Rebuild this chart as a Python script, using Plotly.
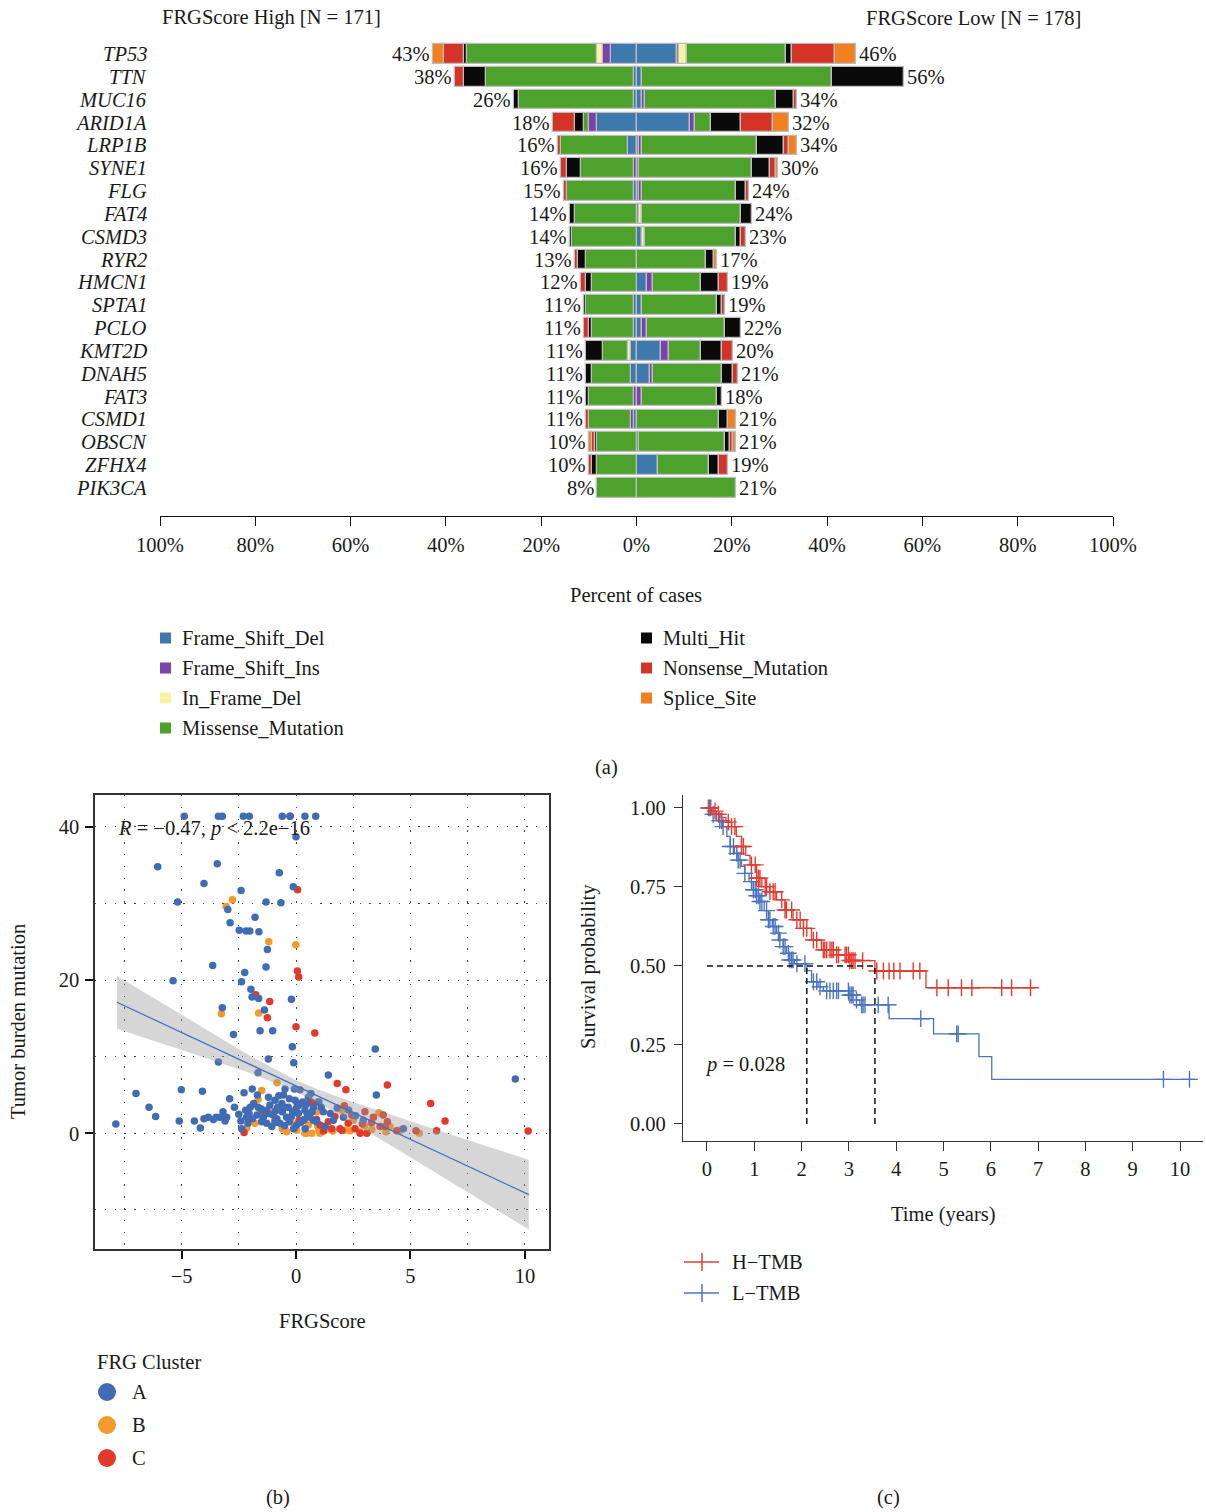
import numpy as np
import plotly.graph_objects as go

W, H = 1206, 1512
FONT = "Liberation Serif, DejaVu Serif, serif"
INK = "#1a1a1a"
FS = 20.5


def fx(px):
    return px / W


def fy(py):
    return 1 - py / H


# ---------------- (a) mutation co-barplot ----------------
genes = ["TP53", "TTN", "MUC16", "ARID1A", "LRP1B", "SYNE1", "FLG", "FAT4", "CSMD3", "RYR2",
         "HMCN1", "SPTA1", "PCLO", "KMT2D", "DNAH5", "FAT3", "CSMD1", "OBSCN", "ZFHX4", "PIK3CA"]
mut_classes = ["Frame_Shift_Del", "Frame_Shift_Ins", "In_Frame_Del", "Missense_Mutation",
               "Multi_Hit", "Nonsense_Mutation", "Splice_Site"]
class_colors = ["#3d79ad", "#7b42ad", "#f8f2a4", "#4ca22b", "#0a0a0a", "#d43427", "#f2801f"]
n_high, n_low = 171, 178

# mutated samples per class (same order as mut_classes)
high_counts = [
    [9, 3, 2, 47, 1, 7, 4], [1, 0, 0, 53, 8, 3, 0], [1, 0, 0, 41, 2, 0, 0], [14, 3, 0, 2, 3, 8, 0],
    [3, 0, 0, 24, 0, 1, 0], [0, 1, 0, 19, 5, 2, 0], [1, 0, 0, 24, 0, 1, 0], [0, 0, 0, 22, 2, 0, 0],
    [0, 0, 0, 23, 1, 0, 0], [0, 0, 0, 18, 3, 1, 0], [0, 0, 0, 16, 2, 2, 0], [1, 0, 0, 17, 1, 0, 0],
    [1, 0, 0, 15, 1, 2, 0], [2, 0, 1, 9, 6, 0, 0], [2, 0, 0, 14, 2, 0, 0], [0, 1, 0, 16, 1, 0, 0],
    [1, 1, 0, 15, 0, 1, 0], [0, 0, 0, 14, 1, 1, 1], [0, 0, 0, 14, 2, 1, 0], [0, 0, 0, 14, 0, 0, 0],
]
low_counts = [
    [15, 1, 3, 37, 2, 16, 8], [2, 0, 0, 71, 27, 0, 0], [2, 1, 0, 49, 7, 1, 0], [20, 2, 0, 6, 11, 12, 6],
    [1, 1, 0, 43, 10, 2, 3], [0, 1, 0, 42, 7, 2, 1], [1, 1, 0, 35, 4, 1, 0], [1, 0, 1, 37, 4, 0, 0],
    [2, 0, 1, 34, 2, 2, 0], [0, 0, 0, 26, 3, 0, 1], [4, 2, 0, 18, 7, 3, 0], [2, 0, 0, 28, 2, 1, 0],
    [2, 2, 0, 29, 6, 0, 0], [9, 3, 0, 12, 8, 4, 0], [5, 1, 0, 26, 4, 2, 0], [0, 2, 0, 28, 2, 0, 0],
    [0, 0, 0, 31, 3, 0, 3], [1, 0, 0, 32, 2, 1, 1], [8, 0, 0, 19, 4, 3, 0], [0, 0, 0, 37, 0, 0, 0],
]
pct_ticks = [-100, -80, -60, -40, -20, 0, 20, 40, 60, 80, 100]

# ---------------- (b) FRGScore vs TMB ----------------
clusters = ["A", "B", "C"]
cluster_colors = ["#3f6cb5", "#f59a2a", "#e2392b"]
score_A = [-4.88, -3.39, -3.22, -2.30, -2.04, -0.60, -0.26, 0.39, 0.86,
           0.0, -6.04, -3.44, -4.02, -0.73, -0.12, -2.40, -5.17, -1.31, -0.66, -2.98, -1.79, -2.88,
           -2.48, -2.18, -2.02, -1.62, -1.25, -1.31, -3.64, -2.24, -5.37, -2.38, -1.97, -1.92, -1.63,
           -0.20, -3.22, -1.38, -2.73, -1.57, -1.02, -0.16, 3.46, -1.21, -3.39, -0.10, 1.41, 9.58,
           -1.66, 3.51,
           -7.87, -6.99, -6.42, -6.13, -5.10, -5.01, -4.44, -4.18, -4.09, -4.02, -3.83, -3.61, -3.49,
           -3.31, -3.19, -3.10, -3.03, -2.90, -2.69, -2.41, -2.37, -2.27, -2.20, -2.16, -2.05, -2.00,
           -1.91, -1.85, -1.69, -1.66, -1.53, -1.43, -1.28, -1.21, -1.14, -1.06, -0.92, -0.84, -0.80,
           -0.70, -0.62, -0.55, -0.48, -0.41, -0.34, -0.29, -0.04, -0.07, 0.03, 0.10, 0.17, 0.25,
           0.32, 0.39, 0.54, 0.61, 0.76, 0.90, 1.00, 1.19, 1.27,
           0.29, 0.97, 0.76, 1.63, 2.07, 2.94, 4.69, 0.40,
           -1.0, -0.6, -0.2, 0.2, -0.5, -1.3, -0.9, 0.0, 0.5, -1.7, -1.9, -0.3, 0.7, -1.2, -0.5,
           0.1, 0.45, -0.1, -0.9, -2.5, -2.1, -1.5, 1.5, 1.8, 2.3, 2.6, 1.1, -0.75, 0.65, -0.15]
tmb_A = [41.4, 41.4, 41.4, 41.4, 41.4, 41.4, 41.4, 41.4, 41.4,
         38.7, 34.8, 35.2, 32.6, 34.0, 32.2, 31.7, 30.2, 30.2, 30.1, 29.2, 28.2, 27.5,
         26.5, 26.4, 26.4, 26.3, 24.0, 21.7, 21.9, 21.0, 19.9, 19.8, 18.8, 17.8, 17.6,
         17.5, 16.4, 16.1, 12.9, 13.4, 13.4, 11.3, 11.0, 9.7, 9.3, 9.2, 7.6, 7.1,
         7.9, 5.0,
         1.2, 5.2, 3.4, 2.2, 1.6, 5.7, 1.6, 0.7, 5.5, 1.9, 2.1, 1.8, 2.1,
         2.1, 2.8, 1.6, 2.1, 4.5, 3.4, 1.6, 0.6, 5.3, 3.0, 2.1, 2.6, 3.4,
         5.8, 3.9, 5.0, 3.4, 3.2, 2.1, 1.3, 2.6, 3.7, 0.9, 4.3, 1.9, 3.4,
         1.3, 3.9, 5.0, 5.8, 2.1, 3.4, 4.5, 4.3, 5.8, 1.1, 2.6, 5.7, 3.9,
         1.7, 3.0, 4.7, 2.1, 3.4, 1.5, 4.1, 2.8, 0.9,
         4.1, 4.1, 1.7, 1.7, 2.1, 1.7, 0.6, 0.6,
         2.4, 2.8, 2.2, 1.4, 1.0, 3.0, 2.9, 3.2, 2.5, 2.4, 1.9, 1.5, 2.8, 4.7, 3.4,
         3.6, 3.8, 0.6, 1.4, 2.5, 1.3, 1.5, 2.6, 3.3, 3.0, 2.3, 3.4, 4.9, 5.2, 2.8]
score_B = [-2.78, -3.05, -1.19, -0.01, -3.26, -1.63, -0.83, -1.50, -1.66, -1.06, -2.15, -1.79,
           -0.60, 0.03, 0.39, 0.69, 0.90, 0.95, 0.54, -0.22, -0.07, 1.15, 1.0, 3.62, 2.0, 2.50,
           2.14, 2.79, 3.31, 3.93, 4.54, 5.38, 0.47, 1.05, 2.36, 4.5, 1.6, 1.3, -0.4, 3.0, 4.1]
tmb_B = [30.5, 29.6, 25.0, 24.6, 15.6, 15.7, 6.6, 5.6, 4.4, 2.9, 0.7, 1.3,
         0.6, 0.4, 0.0, 0.0, 2.8, 0.95, 1.1, 1.5, 0.75, 0.8, 0.4, 2.7, 3.0, 1.7,
         0.4, 0.2, 0.5, 0.2, 0.35, 0.0, 0.0, 0.0, 0.35, 0.4, 0.3, 0.5, 0.2, 1.0, 0.9]
score_C = [-0.26, 0.07, 0.06, 0.12, -1.76, -1.15, -1.25, 0.0, 0.82, 1.80, 2.18, 3.99, 5.88,
           6.51, 6.14, 10.14, 0.67, 2.11, 3.01, 3.38, 3.81, 3.99, 3.89, 3.67, 2.58, 2.28, 1.92,
           1.56, 1.41, 1.05, 3.09, 5.24, 4.40, 2.43, 2.0, 2.8, -2.27, -1.43, 0.13, 0.36, 0.90,
           0.05, -0.92, 1.7, 2.9, 3.3, 1.2]
tmb_C = [41.4, 31.8, 21.2, 20.4, 18.1, 17.2, 15.1, 13.9, 13.1, 6.5, 5.7, 6.3, 3.9,
         1.6, 0.35, 0.3, 4.1, 3.6, 2.8, 2.1, 2.4, 1.5, 0.9, 0.9, 0.6, 1.3, 0.6,
         0.6, 1.5, 1.1, 0.0, 0.35, 0.35, 2.4, 0.4, 0.0, 0.1, 2.9, 1.7, 1.8, 1.8,
         3.9, 1.6, 2.2, 1.2, 1.4, 0.3]

# linear fit with its 95% confidence band
fit_x = [-7.82, -6.0, -4.0, -2.0, 0.0, 1.0, 2.0, 4.0, 6.0, 8.0, 10.17]
fit_y = [17.10, 14.56, 11.77, 8.98, 6.19, 4.80, 3.40, 0.61, -2.18, -4.97, -8.00]
fit_hi = [20.55, 17.25, 13.63, 10.09, 6.94, 5.69, 4.59, 2.55, 0.59, -1.35, -3.45]
fit_lo = [13.65, 11.87, 9.91, 7.87, 5.44, 3.91, 2.21, -1.33, -4.95, -8.59, -12.55]

# ---------------- (c) Kaplan-Meier ----------------
groups = ["H\u2212TMB", "L\u2212TMB"]
group_colors = ["#e33b2e", "#4a74c0"]
h_time = [0, 0.10, 0.20, 0.30, 0.40, 0.52, 0.62, 0.73, 0.82, 0.91, 1.05, 1.16, 1.33, 1.47,
          1.65, 1.82, 2.04, 2.21, 2.42, 2.74, 3.02, 3.55, 4.63, 6.93]
h_surv = [1.0, 0.99, 0.98, 0.97, 0.955, 0.941, 0.91, 0.878, 0.85, 0.82, 0.778, 0.751, 0.735,
          0.709, 0.677, 0.646, 0.619, 0.582, 0.551, 0.535, 0.517, 0.484, 0.431, 0.431]
h_censor = [0.06, 0.17, 0.24, 0.45, 0.52, 0.59, 0.73, 0.77, 0.94, 1.02, 1.05, 1.09, 1.12, 1.23,
            1.26, 1.33, 1.40, 1.44, 1.58, 1.65, 1.68, 1.79, 1.90, 1.97, 2.04, 2.11, 2.25, 2.32,
            2.46, 2.49, 2.53, 2.60, 2.64, 2.67, 2.74, 2.78, 2.92, 2.95, 2.99, 3.02, 3.06, 3.09,
            3.13, 3.29, 3.59, 3.73, 3.85, 3.95, 4.08, 4.36, 4.50, 4.86, 5.10, 5.38, 5.60, 6.23,
            6.44, 6.84]
l_time = [0, 0.10, 0.20, 0.34, 0.42, 0.49, 0.58, 0.66, 0.73, 0.80, 0.89, 0.98, 1.05, 1.12,
          1.21, 1.30, 1.38, 1.47, 1.54, 1.61, 1.68, 1.75, 1.85, 2.11, 2.21, 2.35, 2.46, 3.02,
          3.16, 3.23, 3.85, 4.79, 5.75, 6.02, 10.32]
l_surv = [1.0, 0.98, 0.96, 0.941, 0.91, 0.878, 0.856, 0.835, 0.815, 0.793, 0.767, 0.741,
          0.722, 0.704, 0.675, 0.646, 0.625, 0.604, 0.582, 0.561, 0.54, 0.519, 0.507, 0.485,
          0.45, 0.434, 0.421, 0.408, 0.392, 0.377, 0.333, 0.285, 0.213, 0.141, 0.141]
l_censor = [0.03, 0.08, 0.13, 0.27, 0.31, 0.34, 0.49, 0.56, 0.63, 0.66, 0.70, 0.80, 0.94, 0.98,
            1.02, 1.05, 1.09, 1.12, 1.16, 1.26, 1.30, 1.33, 1.40, 1.44, 1.51, 1.54, 1.61, 1.65,
            1.72, 1.75, 1.79, 1.82, 1.90, 2.07, 2.25, 2.32, 2.39, 2.53, 2.60, 2.67, 2.74, 2.78,
            2.99, 3.02, 3.06, 3.09, 3.16, 3.27, 3.30, 3.34, 3.62, 3.83, 4.52, 5.28, 5.31, 9.65,
            10.20]
median_times = [3.55, 2.11]
km_pvalue = "0.028"

fig = go.Figure()

# ---- (a) stacked bars: High to the left, Low to the right ----
rows = list(range(len(genes)))
for k, (cls, col) in enumerate(zip(mut_classes, class_colors)):
    xh = [-c[k] / n_high * 100 if c[k] else None for c in high_counts]
    xl = [c[k] / n_low * 100 if c[k] else None for c in low_counts]
    for xs in (xh, xl):
        fig.add_trace(go.Bar(x=xs, y=rows, orientation="h", width=0.86,
                             marker=dict(color=col, line=dict(color="#bdbdbd", width=1.3)),
                             showlegend=False, xaxis="x", yaxis="y"))

annotations = []
shapes = []


def text(x, y, s, size=FS, xanchor="center", yanchor="middle", xref="paper", yref="paper", **kw):
    annotations.append(dict(x=x, y=y, text=s, xref=xref, yref=yref, showarrow=False,
                            xanchor=xanchor, yanchor=yanchor,
                            font=dict(family=FONT, size=size, color=INK), **kw))


for i, g in enumerate(genes):
    text(fx(149), i, f"<i>{g}</i>", xanchor="right", yref="y")
    ph = sum(high_counts[i]) / n_high * 100
    pl = sum(low_counts[i]) / n_low * 100
    text(-ph, i, f"{round(ph)}%", xanchor="right", xref="x", yref="y", xshift=-1)
    text(pl, i, f"{round(pl)}%", xanchor="left", xref="x", yref="y", xshift=1)

text(fx(160), fy(18), f"FRGScore High [N = {n_high}]", xanchor="left")
text(fx(1083), fy(18), f"FRGScore Low [N = {n_low}]", xanchor="right")
text(fx(636), fy(595), "Percent of cases")
text(fx(606), fy(767), "(a)")

# class legend in two columns
for k, (cls, col) in enumerate(zip(mut_classes, class_colors)):
    colx = 160 if k < 4 else 641
    rowy = 638 + 30 * (k if k < 4 else k - 4)
    shapes.append(dict(type="rect", xref="paper", yref="paper",
                       x0=fx(colx), x1=fx(colx + 11), y0=fy(rowy + 5.5), y1=fy(rowy - 5.5),
                       fillcolor=col, line=dict(width=0)))
    text(fx(colx + 20), fy(rowy), cls, xanchor="left")

# ---- (b) scatter ----
for name, col, xs, ys in [("B", cluster_colors[1], score_B, tmb_B),
                          ("C", cluster_colors[2], score_C, tmb_C),
                          ("A", cluster_colors[0], score_A, tmb_A)]:
    fig.add_trace(go.Scatter(x=xs, y=ys, mode="markers", name=name,
                             marker=dict(color=col, size=7.5, line=dict(width=0)),
                             showlegend=False, xaxis="x2", yaxis="y2"))

fig.add_trace(go.Scatter(x=fit_x + fit_x[::-1], y=fit_hi + fit_lo[::-1], fill="toself",
                         fillcolor="rgba(153,153,153,0.4)", line=dict(width=0), mode="lines",
                         showlegend=False, xaxis="x2", yaxis="y2", hoverinfo="skip"))
fig.add_trace(go.Scatter(x=fit_x, y=fit_y, mode="lines", line=dict(color="#3f6fc4", width=1.2),
                         showlegend=False, xaxis="x2", yaxis="y2"))

text(fx(116), fy(828), "<i>R</i> = \u22120.47, <i>p</i> &lt; 2.2e\u221216", xanchor="left")
text(fx(18), fy(1022), "Tumor burden mutation", textangle=-90)
text(fx(322), fy(1321), "FRGScore")
text(fx(95), fy(1362), "FRG Cluster", xanchor="left")
for k, (name, col) in enumerate(zip(clusters, cluster_colors)):
    cy = 1392 + 33 * k
    shapes.append(dict(type="circle", xref="paper", yref="paper",
                       x0=fx(98), x1=fx(116), y0=fy(cy + 9), y1=fy(cy - 9),
                       fillcolor=col, line=dict(width=0)))
    text(fx(130), fy(cy), name, xanchor="left")
text(fx(278), fy(1497), "(b)")


# ---- (c) Kaplan-Meier ----
def surv_at(times, surv, t):
    idx = np.searchsorted(np.asarray(times), np.asarray(t), side="right") - 1
    return list(np.asarray(surv)[idx])


for t, s, cens, col, name in [(l_time, l_surv, l_censor, group_colors[1], groups[1]),
                              (h_time, h_surv, h_censor, group_colors[0], groups[0])]:
    fig.add_trace(go.Scatter(x=t, y=s, mode="lines", line=dict(color=col, width=1.3, shape="hv"),
                             showlegend=False, xaxis="x3", yaxis="y3"))
    fig.add_trace(go.Scatter(x=cens, y=surv_at(t, s, cens), mode="markers",
                             marker=dict(symbol="cross-thin", size=12, color=col,
                                         line=dict(width=1.4, color=col)),
                             showlegend=False, xaxis="x3", yaxis="y3"))

dash = dict(color="#111111", width=1.5, dash="6px,4px")
shapes.append(dict(type="line", xref="x3", yref="y3", x0=0, x1=max(median_times), y0=0.5, y1=0.5,
                   line=dash))
for m in median_times:
    shapes.append(dict(type="line", xref="x3", yref="y3", x0=m, x1=m, y0=0, y1=0.5, line=dash))

text(fx(703), fy(1064), f"<i>p</i> = {km_pvalue}", xanchor="left")
text(fx(588), fy(967), "Survival probability", textangle=-90)
text(fx(943), fy(1214), "Time (years)")
for k, (name, col) in enumerate(zip(groups, group_colors)):
    ly = 1262 + 31 * k
    shapes.append(dict(type="line", xref="paper", yref="paper", x0=fx(684), x1=fx(719),
                       y0=fy(ly), y1=fy(ly), line=dict(color=col, width=1.5)))
    shapes.append(dict(type="line", xref="paper", yref="paper", x0=fx(702), x1=fx(702),
                       y0=fy(ly - 9), y1=fy(ly + 9), line=dict(color=col, width=1.5)))
    text(fx(730), fy(ly), name, xanchor="left")
text(fx(888), fy(1497), "(c)")

tickfont = dict(family=FONT, size=FS, color=INK)
grid = dict(showgrid=True, gridcolor="#444444", gridwidth=1.3)

fig.update_layout(
    width=W, height=H, margin=dict(l=0, r=0, t=0, b=0, autoexpand=False),
    paper_bgcolor="white", plot_bgcolor="white",
    barmode="relative", bargap=0, showlegend=False,
    font=dict(family=FONT, size=FS, color=INK),
    annotations=annotations, shapes=shapes,
    xaxis=dict(domain=[fx(160), fx(1113)], range=[-100, 100], anchor="y",
               tickvals=pct_ticks, ticktext=[f"{abs(v)}%" for v in pct_ticks],
               showline=True, linecolor="#111111", linewidth=1.2, ticks="outside",
               ticklen=9, tickwidth=1.2, tickcolor="#111111", showgrid=False, zeroline=False,
               tickfont=tickfont, ticklabelstandoff=1, automargin=False),
    yaxis=dict(domain=[fy(516), fy(40)], range=[20.23, -0.613], anchor="x",
               visible=False, showgrid=False, zeroline=False, automargin=False),
    xaxis2=dict(domain=[fx(95), fx(549)], range=[-8.78, 11.05], anchor="y2",
                tickvals=[-5, 0, 5, 10], ticktext=["\u22125", "0", "5", "10"],
                showline=True, mirror=True, linecolor="#333333", linewidth=1.5,
                ticks="outside", ticklen=8, tickwidth=2, tickcolor="#111111",
                zeroline=False, tickfont=tickfont, ticklabelstandoff=0, automargin=False,
                griddash="1.3px,10.5px", **grid,
                minor=dict(dtick=2.5, tick0=0, showgrid=True, gridcolor="#444444",
                           gridwidth=1.3, griddash="1.3px,10.5px", ticks="")),
    yaxis2=dict(domain=[fy(1249), fy(795)], range=[-15.10, 44.16], anchor="x2",
                tickvals=[0, 20, 40],
                showline=True, mirror=True, linecolor="#333333", linewidth=1.5,
                ticks="outside", ticklen=8, tickwidth=2, tickcolor="#111111",
                zeroline=False, tickfont=tickfont, ticklabelstandoff=2, automargin=False,
                griddash="1.3px,8.5px", **grid,
                minor=dict(dtick=10, tick0=0, showgrid=True, gridcolor="#444444",
                           gridwidth=1.3, griddash="1.3px,8.5px", ticks="")),
    xaxis3=dict(domain=[fx(683), fx(1203)], range=[-0.507, 10.486], anchor="y3",
                tickvals=list(range(11)), showline=True, linecolor="#333333", linewidth=1.2,
                ticks="outside", ticklen=9, tickwidth=1.2, tickcolor="#333333",
                showgrid=False, zeroline=False, tickfont=tickfont, ticklabelstandoff=0,
                automargin=False),
    yaxis3=dict(domain=[fy(1141), fy(795)], range=[-0.054, 1.041], anchor="x3",
                tickvals=[0, 0.25, 0.5, 0.75, 1.0],
                ticktext=["0.00", "0.25", "0.50", "0.75", "1.00"],
                showline=True, linecolor="#333333", linewidth=1.2,
                ticks="outside", ticklen=8, tickwidth=1.2, tickcolor="#333333",
                showgrid=False, zeroline=False, tickfont=tickfont, ticklabelstandoff=4,
                automargin=False),
)

fig.write_html("out.html")
